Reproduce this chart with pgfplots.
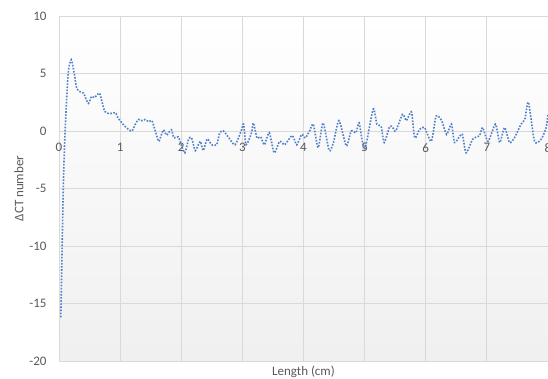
\documentclass[border=0pt]{standalone}
\usepackage{pgfplots}
\pgfplotsset{compat=1.18}
\usepackage{fontspec}
\setmainfont{Carlito}
\definecolor{serieblue}{HTML}{5080CC}
\definecolor{labelgray}{HTML}{595959}
\definecolor{gridgray}{HTML}{D9D9D9}

\pgfplotstableread{
x y
0.03 -16.2
0.07 -5.0
0.10 0.0
0.15 5.0
0.20 6.2
0.25 5.0
0.29 3.7
0.35 3.4
0.40 3.3
0.48 2.4
0.53 3.0
0.58 2.9
0.66 3.3
0.70 2.6
0.75 1.7
0.83 1.5
0.92 1.6
0.97 1.1
1.03 0.7
1.10 0.3
1.19 0.0
1.25 0.6
1.30 1.0
1.36 0.9
1.41 1.0
1.47 0.8
1.52 0.9
1.57 0.1
1.63 -0.9
1.67 -0.4
1.71 0.1
1.76 -0.35
1.84 0.1
1.88 -0.6
1.95 -0.5
2.00 -1.2
2.06 -1.9
2.12 -0.7
2.17 -0.6
2.23 -1.7
2.31 -0.9
2.36 -1.7
2.42 -0.7
2.46 -0.9
2.50 -1.2
2.58 -1.2
2.63 -0.15
2.69 0.0
2.78 -0.6
2.88 -1.2
2.98 0.0
3.02 0.6
3.06 -1.2
3.15 -0.15
3.18 0.7
3.24 -0.6
3.30 -0.5
3.36 -1.2
3.44 -0.15
3.52 -1.9
3.61 -0.9
3.69 -1.2
3.75 -0.8
3.82 -0.4
3.89 -1.2
3.97 -0.3
4.03 -0.6
4.10 0.0
4.16 0.6
4.24 -1.45
4.32 0.7
4.42 -1.7
4.49 -1.0
4.58 0.9
4.70 -1.3
4.78 0.0
4.86 -0.15
4.91 0.7
5.00 -1.6
5.14 1.9
5.20 0.6
5.27 0.4
5.32 -1.0
5.41 0.4
5.46 0.3
5.51 0.0
5.62 1.45
5.68 0.9
5.73 1.4
5.77 1.6
5.82 -0.6
5.90 0.15
5.98 0.3
6.09 -0.9
6.17 1.3
6.26 0.9
6.34 -0.3
6.42 0.6
6.47 -1.0
6.55 -0.5
6.60 -0.3
6.66 -1.9
6.77 -0.7
6.88 -0.4
6.93 0.3
7.02 -0.9
7.14 0.6
7.21 -1.0
7.29 0.3
7.37 -1.0
7.45 -0.6
7.56 0.6
7.62 1.0
7.68 2.5
7.78 -0.9
7.89 -0.7
7.97 0.3
8.00 1.5
}\profile

\begin{document}
\begin{tikzpicture}
\begin{axis}[
  scale only axis,
  width=489pt, height=345pt,
  xmin=0, xmax=8, ymin=-20, ymax=10,
  xtick={0,1,...,8}, ytick={-20,-15,...,10},
  axis line style={draw=none},
  grid=major,
  major grid style={draw=gridgray, line width=0.8pt},
  major tick length=0pt,
  axis background/.style={top color=white, bottom color=black!6},
  tick label style={font=\fontsize{13}{15}\selectfont, text=labelgray},
  /pgf/number format/assume math mode=true,
  % horizontal tick labels sit just below the zero line
  xticklabel style={anchor=north, yshift=221pt},
  yticklabel style={anchor=east, xshift=-9pt},
  xlabel={Length (cm)},
  ylabel={ΔCT number},
  label style={font=\fontsize{13}{15}\selectfont, text=labelgray},
  xlabel style={at={(rel axis cs:0.5,0)}, anchor=north, yshift=-1pt},
  ylabel style={at={(rel axis cs:0,0.5)}, anchor=south, rotate=0, yshift=32pt},
]
\addplot[serieblue, line width=1.6pt, dash pattern=on 1.6pt off 1.5pt, smooth, tension=0.4]
  table[x=x, y=y] {\profile};
\end{axis}
\pgfresetboundingbox
\path[use as bounding box] ([shift={(-59pt,-17pt)}]current axis.south west)
  rectangle ([shift={(0pt,16pt)}]current axis.north east);
\end{tikzpicture}
\end{document}
